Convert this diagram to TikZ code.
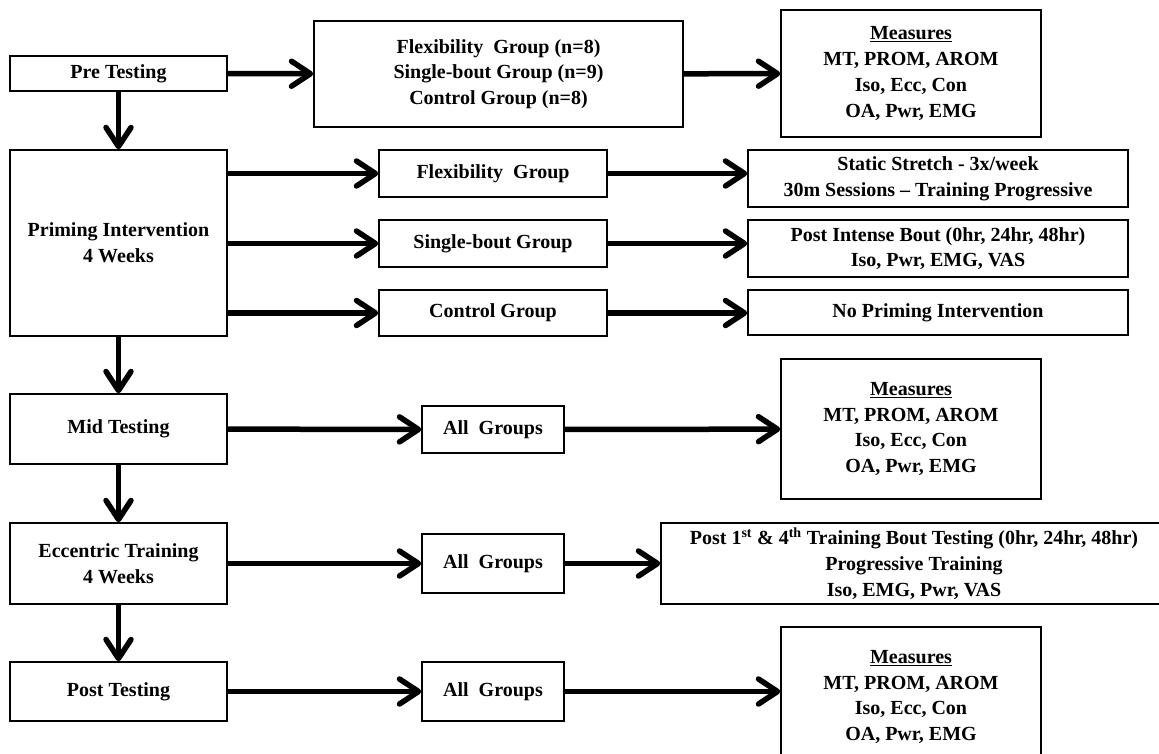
\documentclass[tikz,border=0pt]{standalone}
\usepackage{fontspec}
\setmainfont{Liberation Serif}
\usetikzlibrary{arrows.meta}
\begin{document}
\begin{tikzpicture}[x=1pt, y=-1pt]
	\tikzstyle{every node}=[inner sep=0pt, align=center, font=\bfseries\fontsize{20}{25.7}\selectfont]
	\tikzstyle{box}=[draw, rectangle, line width=1.5pt]
	\tikzstyle{arr}=[line width=5.5pt, -{Straight Barb[length=19pt, width=25pt, round]}]
	\useasboundingbox (0,0) rectangle (1159,753);
	\clip (0,0) rectangle (1159,753);
	\node[box, minimum width=217pt, minimum height=35pt] (Pre) at (118.5, 73.5) {Pre Testing};
	\node[box, minimum width=369pt, minimum height=106pt] (Grp) at (498.5, 74) {Flexibility\ \ Group (n=8)\\Single-bout Group (n=9)\\Control Group (n=8)};
	\node[box, minimum width=260pt, minimum height=127pt] (MeasA) at (911, 73.5) {\underline{Measures}\\MT, PROM, AROM\\Iso, Ecc, Con\\OA, Pwr, EMG};
	\node[box, minimum width=217pt, minimum height=186pt] (Prime) at (118.5, 243) {Priming Intervention\\4 Weeks};
	\node[box, minimum width=228pt, minimum height=47pt] (Flex) at (493, 173.5) {Flexibility\ \ Group};
	\node[box, minimum width=228pt, minimum height=47pt] (Single) at (493, 243.5) {Single-bout Group};
	\node[box, minimum width=228pt, minimum height=46pt] (Ctrl) at (493, 313) {Control Group};
	\node[box, minimum width=380pt, minimum height=57pt] (Stretch) at (938, 178.5) {Static Stretch - 3x/week\\30m Sessions -- Training Progressive};
	\node[box, minimum width=380pt, minimum height=57pt] (Bout) at (938, 248.5) {Post Intense Bout (0hr, 24hr, 48hr)\\Iso, Pwr, EMG, VAS};
	\node[box, minimum width=380pt, minimum height=45pt] (NoPrime) at (938, 312.5) {No Priming Intervention};
	\node[box, minimum width=217pt, minimum height=70pt] (Mid) at (118.5, 429) {Mid Testing};
	\node[box, minimum width=142pt, minimum height=47pt] (AllMid) at (493, 429.5) {All\ \ Groups};
	\node[box, minimum width=260pt, minimum height=140pt] (MeasB) at (911, 429) {\underline{Measures}\\MT, PROM, AROM\\Iso, Ecc, Con\\OA, Pwr, EMG};
	\node[box, minimum width=217pt, minimum height=81pt] (Ecc) at (118.5, 563.5) {Eccentric Training\\4 Weeks};
	\node[box, minimum width=142pt, minimum height=59pt] (AllEcc) at (493, 563.5) {All\ \ Groups};
	\node[box, minimum width=506pt, minimum height=81pt] (BoutTest) at (914, 563.5) {Post 1\textsuperscript{st} \& 4\textsuperscript{th} Training Bout Testing (0hr, 24hr, 48hr)\\Progressive Training\\Iso, EMG, Pwr, VAS};
	\node[box, minimum width=217pt, minimum height=59pt] (Post) at (118.5, 691.5) {Post Testing};
	\node[box, minimum width=142pt, minimum height=59pt] (AllPost) at (493, 691.5) {All\ \ Groups};
	\node[box, minimum width=260pt, minimum height=140pt] (MeasC) at (911, 697) {\underline{Measures}\\MT, PROM, AROM\\Iso, Ecc, Con\\OA, Pwr, EMG};
	\draw [arr] (Pre) -- (Grp);
	\draw [arr] (Grp) -- (MeasA);
	\draw [arr] (Pre) -- (Prime);
	\draw [arr] (Prime.east |- Flex) -- (Flex);
	\draw [arr] (Prime.east |- Single) -- (Single);
	\draw [arr] (Prime.east |- Ctrl) -- (Ctrl);
	\draw [arr] (Flex) -- (Flex -| Stretch.west);
	\draw [arr] (Single) -- (Single -| Bout.west);
	\draw [arr] (Ctrl) -- (Ctrl -| NoPrime.west);
	\draw [arr] (Prime) -- (Mid);
	\draw [arr] (Mid) -- (AllMid);
	\draw [arr] (AllMid) -- (MeasB);
	\draw [arr] (Mid) -- (Ecc);
	\draw [arr] (Ecc) -- (AllEcc);
	\draw [arr] (AllEcc) -- (BoutTest);
	\draw [arr] (Ecc) -- (Post);
	\draw [arr] (Post) -- (AllPost);
	\draw [arr] (AllPost) -- (AllPost -| MeasC.west);
\end{tikzpicture}
\end{document}
